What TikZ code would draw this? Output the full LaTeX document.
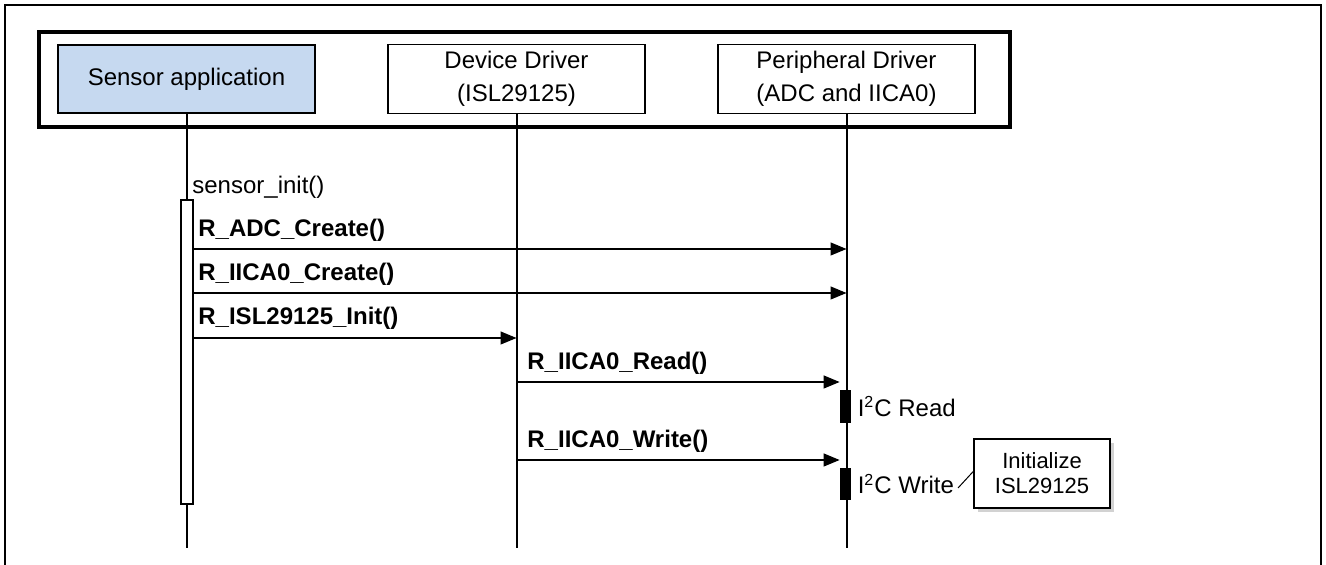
\documentclass[tikz,border=0pt]{standalone}
\usepackage{fontspec}
\setmainfont{Liberation Sans}
\usepackage{xcolor}
\usetikzlibrary{positioning, arrows.meta, shadows}

\definecolor{appblue}{RGB}{198,217,240}

\begin{document}
\begin{tikzpicture}[x=0.5pt, y=-0.5pt,
    lane/.style={draw, line width=0.8pt, align=center,
                 minimum width=128.5pt, minimum height=34pt,
                 font=\fontsize{12}{16.5}\selectfont},
    msg/.style={-{Triangle[length=8pt, width=6.5pt]}, line width=0.6pt},
    call/.style={anchor=west, inner sep=0pt, font=\bfseries\fontsize{12}{14}\selectfont},
    life/.style={line width=1pt},
    busy/.style={fill=black, inner sep=0pt, minimum width=5.5pt},
    lbl/.style={inner sep=0pt, font=\fontsize{12}{14}\selectfont}
  ]
  \useasboundingbox (0,0) rectangle (1326,565);
  \draw[line width=0.8pt] (5,565) -- (5,5) -- (1321,5) -- (1321,565);
  \draw[line width=2pt] (39,32) rectangle (1010,127);

  % lanes
  \node[lane, fill=appblue] (app) at (186.5,79) {Sensor application};
  \node[lane, right=35.7pt of app] (dd) {Device Driver\\(ISL29125)};
  \node[lane, right=35.7pt of dd] (pd) {Peripheral Driver\\(ADC and IICA0)};

  \coordinate (append) at (app |- 0,548);
  \coordinate (ddend) at (dd |- 0,548);
  \coordinate (pdend) at (pd |- 0,548);
  \draw[life] (app.south) -- (append);
  \draw[life] (dd.south) -- (ddend);
  \draw[life] (pd.south) -- (pdend);

  % sensor_init
  \node[draw, fill=white, line width=0.8pt, inner sep=0pt, anchor=north,
        minimum width=6pt, minimum height=152pt] (act) at (187,199) {};
  \node[lbl, anchor=west] (init) at (192,187) {sensor\_init()};

  \node[call] (adc) at (198,230) {R\_ADC\_Create()};
  \draw[msg] (act.east |- 0,249) -- (pd |- 0,249);
  \node[call] (iic) at (198,274) {R\_IICA0\_Create()};
  \draw[msg] (act.east |- 0,293) -- (pd |- 0,293);
  \node[call] (isl) at (198,318) {R\_ISL29125\_Init()};
  \draw[msg] (act.east |- 0,338) -- (dd |- 0,338);

  % read / write
  \node[busy, minimum height=16.5pt] (rd) at (845.5,406.5) {};
  \node[busy, minimum height=16pt] (wr) at (845.5,484) {};
  \node[call] (rdcall) at (527,363) {R\_IICA0\_Read()};
  \draw[msg] (dd |- 0,382) -- (rd.west |- 0,382);
  \node[call] (wrcall) at (527,441) {R\_IICA0\_Write()};
  \draw[msg] (dd |- 0,460) -- (wr.west |- 0,460);
  \node[lbl, right=3pt of rd] (rdtxt) {I\textsuperscript{2}C Read};
  \node[lbl, right=3pt of wr] (wrtxt) {I\textsuperscript{2}C Write};

  % note
  \node[draw, fill=white, line width=0.8pt, align=center,
        minimum width=68pt, minimum height=34.5pt,
        drop shadow={shadow xshift=2pt, shadow yshift=-2pt, fill=black!35},
        font=\fontsize{11}{12.5}\selectfont] (note) at (1042,473.5) {Initialize\\ISL29125};
  \coordinate (notetip) at (958,488);
  \draw[line width=0.5pt] ([yshift=1pt]note.west) -- (notetip);
\end{tikzpicture}
\end{document}
